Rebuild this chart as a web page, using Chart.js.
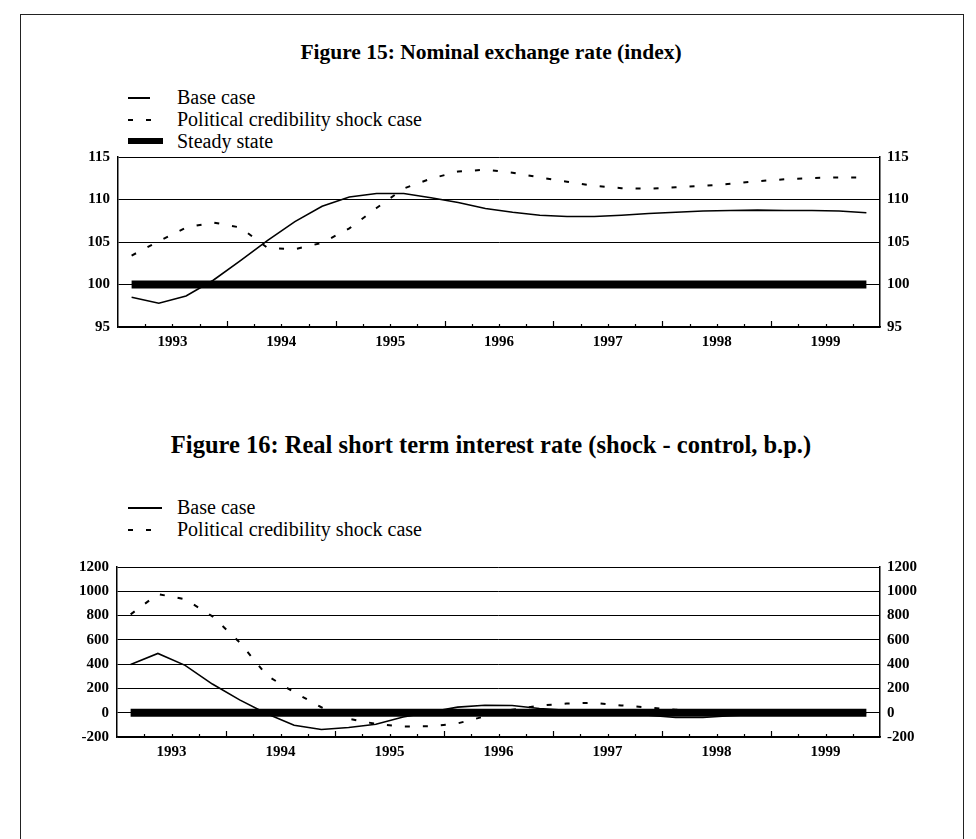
<!DOCTYPE html>
<html>
<head>
<meta charset="utf-8">
<script src="https://cdn.jsdelivr.net/npm/chart.js@4.4.1/dist/chart.umd.min.js"></script>
<style>
  html, body { margin: 0; padding: 0; background: #fff; }
  body { width: 976px; height: 839px; position: relative; overflow: hidden; font-family: "Liberation Serif", "Times New Roman", serif; color: #000; }
  .frame { position: absolute; left: 20px; top: 14px; width: 942px; height: 900px; border: 1.5px solid #222; }
  .title { position: absolute; left: 0; width: 982px; text-align: center; font-weight: bold; line-height: 28px; }
  .legend { position: absolute; left: 128px; font-size: 20px; line-height: 22px; }
  .legend div { position: relative; padding-left: 49px; height: 22px; white-space: nowrap; }
  .sym { position: absolute; left: 0; top: 11px; }
  .solid { width: 22px; height: 1.5px; background: #000; }
  .solid.wide { width: 34px; height: 2px; }
  .dash { width: 24px; height: 2px; background: repeating-linear-gradient(to right, #000 0 5px, transparent 5px 18px); }
  .thick { width: 35px; height: 6px; margin-top: -3px; background: #000; }
  .chart { position: absolute; left: 0; width: 976px; height: 215px; }
</style>
</head>
<body>
<div class="frame"></div>

<div class="title" style="top: 38px; font-size: 21.5px;">Figure 15: Nominal exchange rate (index)</div>
<div class="legend" style="top: 86px;">
  <div><span class="sym solid"></span>Base case</div>
  <div><span class="sym dash"></span>Political credibility shock case</div>
  <div><span class="sym thick"></span>Steady state</div>
</div>
<div class="chart" style="top: 140px;"><canvas id="fx" width="976" height="215"></canvas></div>

<div class="title" style="top: 431px; font-size: 24.5px;">Figure 16: Real short term interest rate (shock - control, b.p.)</div>
<div class="legend" style="top: 496px;">
  <div><span class="sym solid wide"></span>Base case</div>
  <div><span class="sym dash"></span>Political credibility shock case</div>
</div>
<div class="chart" style="top: 550px;"><canvas id="rate" width="976" height="215"></canvas></div>

<script>
// quarterly, 1993Q1 .. 1999Q4
const years = ["1993", "1994", "1995", "1996", "1997", "1998", "1999"];

// Figure 15 (index)
const baseFx = [98.5, 97.8, 98.65, 100.5, 102.8, 105.2, 107.4, 109.2, 110.3, 110.7, 110.7, 110.2, 109.65, 108.95,
  108.5, 108.15, 108.0, 108.0, 108.15, 108.35, 108.5, 108.65, 108.7, 108.75, 108.7, 108.7, 108.65, 108.45];
const shockFx = [103.4, 105.1, 106.7, 107.3, 106.7, 104.3, 104.15, 104.9, 106.6, 109.0, 111.3, 112.45, 113.3, 113.5,
  113.15, 112.6, 112.1, 111.6, 111.33, 111.27, 111.45, 111.6, 111.85, 112.15, 112.38, 112.52, 112.6, 112.6];
const steadyFx = [100, 100, 100, 100, 100, 100, 100, 100, 100, 100, 100, 100, 100, 100,
  100, 100, 100, 100, 100, 100, 100, 100, 100, 100, 100, 100, 100, 100];
const fxTicks = [95, 115, 5];

// Figure 16 (b.p.)
const baseRate = [398, 488, 390, 236, 106, -8, -103, -138, -122, -95, -36, 5, 46, 62,
  59, 35, 20, 10, 0, -20, -40, -40, -25, -15, -10, -5, 0, 0];
const shockRate = [810, 977, 935, 794, 580, 306, 169, 45, -50, -92, -113, -112, -88, -30,
  25, 58, 75, 82, 60, 43, 25, 10, 0, 0, 0, 0, 0, 0];
const steadyRate = [0, 0, 0, 0, 0, 0, 0, 0, 0, 0, 0, 0, 0, 0,
  0, 0, 0, 0, 0, 0, 0, 0, 0, 0, 0, 0, 0, 0];
const rateTicks = [-200, 1200, 200];

const quarters = baseFx.length;
const tickFont = { family: "'Liberation Serif', serif", size: 15, weight: "bold" };

// small quarter ticks pointing into the plot, longer ones at year boundaries
const quarterTicks = {
  id: "quarterTicks",
  afterDraw(chart) {
    const { ctx, chartArea } = chart;
    const x = chart.scales.x;
    ctx.save();
    ctx.strokeStyle = "#000";
    ctx.lineWidth = 1.2;
    for (let q = 1; q < quarters; q++) {
      const px = Math.round(x.getPixelForValue(q)) + 0.5;
      const len = q % 4 === 0 ? 6 : 3;
      ctx.beginPath();
      ctx.moveTo(px, chartArea.bottom);
      ctx.lineTo(px, chartArea.bottom - len);
      ctx.stroke();
    }
    ctx.restore();
  },
};

const toPoints = (arr) => arr.map((y, i) => ({ x: i + 0.5, y }));

function yAxis(ticks, side, width) {
  const [min, max, stepSize] = ticks;
  return {
    type: "linear",
    position: side,
    min,
    max,
    afterFit: (s) => { s.width = width; },
    ticks: { stepSize, color: "#000", font: tickFont, padding: side === "left" ? 8 : 7, callback: (v) => String(v) },
    grid: { color: "#000", lineWidth: 1, drawTicks: false, drawOnChartArea: side === "left" },
    border: { display: true, color: "#000", width: 1.5 },
  };
}

function makeChart(id, base, shock, steady, ticks, leftWidth) {
  return new Chart(document.getElementById(id), {
    type: "line",
    data: {
      datasets: [
        { label: "Base case", data: toPoints(base), borderColor: "#000", borderWidth: 1.6, pointRadius: 0, tension: 0 },
        { label: "Political credibility shock case", data: toPoints(shock), borderColor: "#000", borderWidth: 2, borderDash: [5, 13], pointRadius: 0, tension: 0 },
        { label: "Steady state", data: toPoints(steady), borderColor: "#000", borderWidth: 8, borderCapStyle: "butt", pointRadius: 0 },
      ],
    },
    options: {
      responsive: false,
      animation: false,
      devicePixelRatio: 1,
      layout: { padding: { top: 15, left: 0, right: 0, bottom: 0 } },
      plugins: { legend: { display: false }, tooltip: { enabled: false } },
      scales: {
        x: {
          type: "linear",
          min: 0,
          max: quarters,
          afterFit: (s) => { s.height = 28; },
          ticks: {
            stepSize: 1,
            autoSkip: false,
            maxRotation: 0,
            color: "#000",
            font: tickFont,
            padding: 6,
            callback: (v) => (v % 4 === 2 ? years[(v - 2) / 4] : ""),
          },
          grid: { drawOnChartArea: false, drawTicks: false },
          border: { display: true, color: "#000", width: 1.5 },
        },
        y: yAxis(ticks, "left", leftWidth),
        y2: yAxis(ticks, "right", 96),
      },
    },
    plugins: [quarterTicks],
  });
}

makeChart("fx", baseFx, shockFx, steadyFx, fxTicks, 118);
makeChart("rate", baseRate, shockRate, steadyRate, rateTicks, 117);
</script>
</body>
</html>
